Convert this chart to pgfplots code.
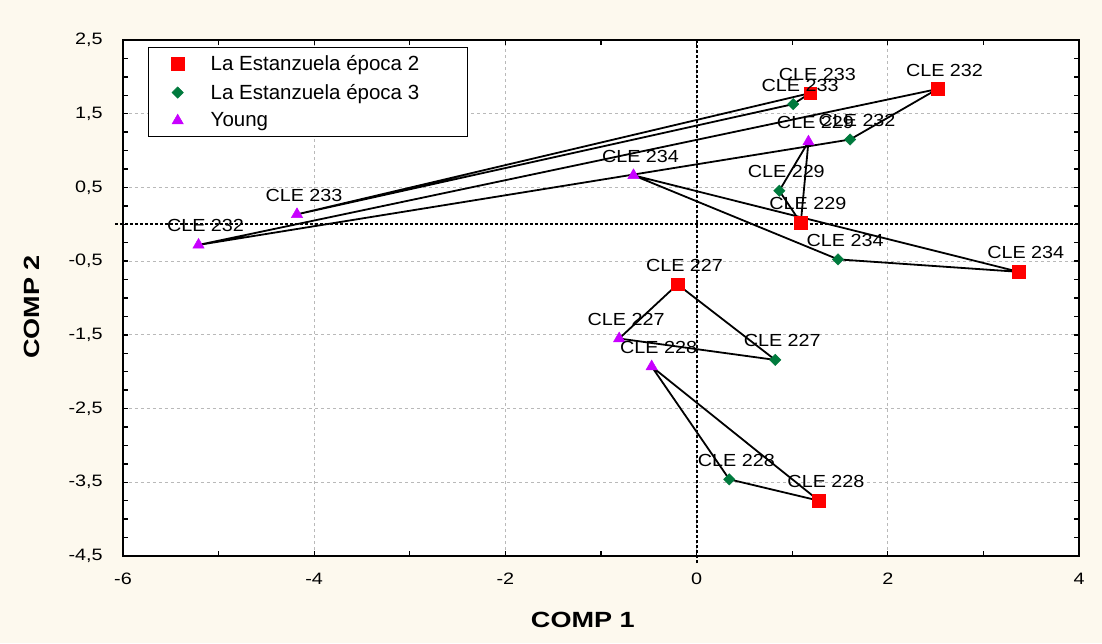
\documentclass[border=0pt]{standalone}
\usepackage{pgfplots}
\pgfplotsset{compat=1.18}
\usepackage{pgfplotstable}
\usepackage{fontspec}
\setmainfont{Liberation Sans}

\definecolor{bgcream}{RGB}{253,249,238}
\definecolor{mred}{RGB}{255,0,0}
\definecolor{mgreen}{RGB}{0,122,61}
\definecolor{mpurple}{RGB}{200,0,255}
\definecolor{gridgray}{RGB}{185,185,185}

\pgfplotstableread[col sep=comma]{
x,y,label
1.19,1.78,CLE 233
2.52,1.835,CLE 232
1.09,0.02,CLE 229
3.37,-0.645,CLE 234
-0.20,-0.815,CLE 227
1.28,-3.75,CLE 228
}\redtab

\pgfplotstableread[col sep=comma]{
x,y,label
1.01,1.63,CLE 233
1.605,1.15,CLE 232
0.865,0.455,CLE 229
1.48,-0.476,CLE 234
0.823,-1.84,CLE 227
0.342,-3.46,CLE 228
}\greentab

\pgfplotstableread[col sep=comma]{
x,y,label
-5.21,-0.28,CLE 232
-4.18,0.135,CLE 233
-0.66,0.664,CLE 234
1.17,1.12,CLE 229
-0.81,-1.55,CLE 227
-0.47,-1.93,CLE 228
}\youngtab

\begin{document}
\begin{tikzpicture}
\fill[bgcream] (-123pt,-87pt) rectangle (979pt,556pt);
\begin{axis}[
  at={(0pt,0pt)}, anchor=south west,
  scale only axis, width=956pt, height=516pt,
  xmin=-6, xmax=4, ymin=-4.5, ymax=2.5,
  xtick={-6,-4,...,4}, ytick={-4.5,-3.5,...,2.5},
  minor x tick num=1, minor y tick num=3,
  tick align=inside, tick pos=both,
  major tick length=5pt, minor tick length=5pt,
  tick style={black, line width=1.3pt},
  axis line style={black, line width=2pt},
  grid=major,
  grid style={gridgray, dash pattern=on 3pt off 3pt, line width=1.2pt},
  axis background/.style={fill=white},
  clip=false,
  /pgf/number format/.cd, use comma, fixed, precision=1, assume math mode=true,
  /pgfplots/.cd,
  xticklabel style={anchor=north, inner sep=0pt, yshift=-17pt, xscale=1.2, font=\fontsize{16.5}{18}\selectfont},
  yticklabel style={anchor=east, inner sep=0pt, xshift=-20pt, xscale=1.2, font=\fontsize{16.5}{18}\selectfont},
  every axis x label/.style={at={(axis description cs:0.481,0)}, anchor=base, yshift=-71pt, xscale=1.23, font=\bfseries\fontsize{22}{24}\selectfont},
  every axis y label/.style={at={(axis description cs:0,0.4826)}, anchor=base, xshift=-83pt, rotate=90, xscale=1.23, font=\bfseries\fontsize{22}{24}\selectfont},
  xlabel={COMP 1}, ylabel={COMP 2},
  legend style={at={(rel axis cs:0.0262,0.9864)}, anchor=north west, draw=black, line width=1.3pt, fill=white,
    inner xsep=0pt, inner ysep=7pt, row sep=10pt, font=\fontsize{20.5}{24}\selectfont,
    nodes={inner xsep=4pt, inner ysep=1pt}},
  legend cell align=left,
  legend image code/.code={\path[draw=none, fill=none] (0pt,-1pt) rectangle (58pt,1pt); \path[#1, draw=none, line width=0.5pt, /tikz/only marks] plot coordinates {(29pt,0pt)};},
  every node near coord/.append style={anchor=base, xshift=7pt, yshift=13pt, xscale=1.13, inner sep=0pt, text=black, font=\fontsize{17.5}{20}\selectfont},
]
% markers
\addplot[only marks, mark=square*, mark size=6.3pt, mred, mark options={line width=0.5pt},
  nodes near coords, point meta=explicit symbolic] table[x=x, y=y, meta=label] {\redtab};
\addlegendentry{La Estanzuela época 2\hspace*{44pt}}
\addplot[only marks, mark=square*, mark size=4pt, mgreen, mark options={rotate=45, line width=0.5pt},
  nodes near coords, point meta=explicit symbolic] table[x=x, y=y, meta=label] {\greentab};
\addlegendentry{La Estanzuela época 3}
\addplot[only marks, mark=triangle*, mark size=6.5pt, mpurple, mark options={line width=0.5pt},
  nodes near coords, point meta=explicit symbolic] table[x=x, y=y, meta=label] {\youngtab};
\addlegendentry{Young}
% reference lines at zero
\addplot[forget plot, black, line width=1.8pt, dash pattern=on 3pt off 2pt] coordinates {(-6.085,0) (4,0)};
\addplot[forget plot, black, line width=1.8pt, dash pattern=on 3pt off 2pt] coordinates {(0,-4.6) (0,2.5)};
% connecting triangles (Young, epoca 2, epoca 3)
\addplot[forget plot, black, line width=1.8pt, line join=round] coordinates {(-5.21,-0.28) (2.52,1.835) (1.605,1.15) (-5.21,-0.28)};
\addplot[forget plot, black, line width=1.8pt, line join=round] coordinates {(-4.18,0.135) (1.19,1.78) (1.01,1.63) (-4.18,0.135)};
\addplot[forget plot, black, line width=1.8pt, line join=round] coordinates {(-0.66,0.664) (3.37,-0.645) (1.48,-0.476) (-0.66,0.664)};
\addplot[forget plot, black, line width=1.8pt, line join=round] coordinates {(1.17,1.12) (1.09,0.02) (0.865,0.455) (1.17,1.12)};
\addplot[forget plot, black, line width=1.8pt, line join=round] coordinates {(-0.81,-1.55) (-0.20,-0.815) (0.823,-1.84) (-0.81,-1.55)};
\addplot[forget plot, black, line width=1.8pt, line join=round] coordinates {(-0.47,-1.93) (1.28,-3.75) (0.342,-3.46) (-0.47,-1.93)};
\end{axis}
\end{tikzpicture}
\end{document}
